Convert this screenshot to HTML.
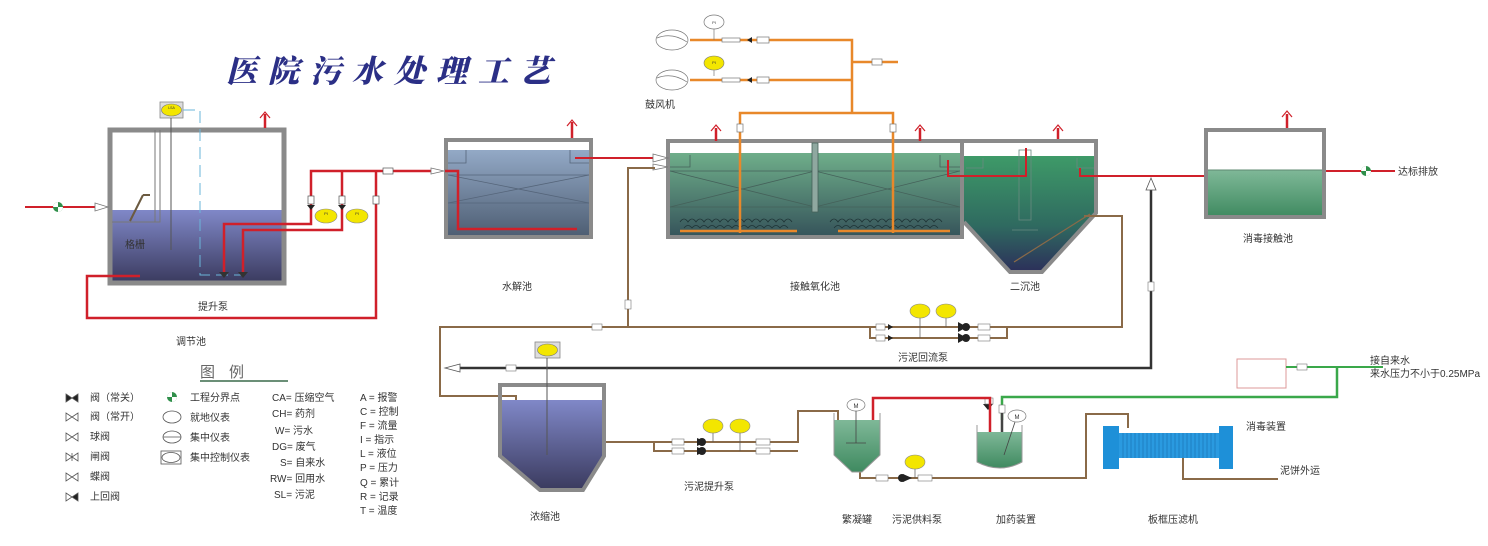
<!DOCTYPE html>
<html><head><meta charset="utf-8"><style>
html,body{margin:0;padding:0;background:#fff;}
svg{display:block;}
text{font-family:"Liberation Sans","Noto Sans CJK SC",sans-serif;fill:#333;font-size:10px;}
</style></head><body>
<svg width="1488" height="546" viewBox="0 0 1488 546" xmlns="http://www.w3.org/2000/svg">
<defs>
<linearGradient id="gb" x1="0" y1="0" x2="0" y2="1"><stop offset="0" stop-color="#8088c8"/><stop offset="1" stop-color="#3a3a5e"/></linearGradient>
<linearGradient id="gh" x1="0" y1="0" x2="0" y2="1"><stop offset="0" stop-color="#93a9c6"/><stop offset="1" stop-color="#4d5d72"/></linearGradient>
<linearGradient id="gg" x1="0" y1="0" x2="0" y2="1"><stop offset="0" stop-color="#6fae8a"/><stop offset="1" stop-color="#35535a"/></linearGradient>
<linearGradient id="gs" x1="0" y1="0" x2="0" y2="1"><stop offset="0" stop-color="#3e9a68"/><stop offset="0.6" stop-color="#2f6a60"/><stop offset="1" stop-color="#2c2f5a"/></linearGradient>
<linearGradient id="gd" x1="0" y1="0" x2="0" y2="1"><stop offset="0" stop-color="#7fb898"/><stop offset="1" stop-color="#3f8a60"/></linearGradient>
</defs>

<!-- Title -->
<text x="226" y="82" style="font-family:'Noto Serif CJK SC',serif;font-size:31px;font-weight:900;fill:#2b2f86;letter-spacing:11px;font-style:italic">医院污水处理工艺</text>

<!-- ===== Regulating tank ===== -->
<rect x="110" y="210" width="174" height="73" fill="url(#gb)"/>
<rect x="110" y="130" width="174" height="153" fill="none" stroke="#8a8a8a" stroke-width="5"/>
<polyline points="112,222 160,222 160,130" fill="none" stroke="#777" stroke-width="1"/>
<line x1="155" y1="130" x2="155" y2="222" stroke="#777" stroke-width="1"/>
<line x1="130" y1="221" x2="143" y2="195" stroke="#6b5a40" stroke-width="2"/>
<line x1="143" y1="195" x2="150" y2="195" stroke="#6b5a40" stroke-width="2"/>
<rect x="160" y="102" width="23" height="16" fill="#ddd" stroke="#888" stroke-width="0.8"/>
<ellipse cx="171.5" cy="110" rx="10" ry="6" fill="#f3e600" stroke="#777" stroke-width="0.6"/>
<text x="171.5" y="109" style="font-size:3.5px" text-anchor="middle">LSA</text>
<line x1="171" y1="118" x2="171" y2="250" stroke="#555" stroke-width="1"/>
<polyline points="183,110 200,110 200,275 245,275" fill="none" stroke="#6ab4d8" stroke-width="1" stroke-dasharray="12,6"/>
<line x1="265" y1="128" x2="265" y2="114" stroke="#d0202a" stroke-width="2.5"/>
<polyline points="260,118 265,112 270,118" fill="none" stroke="#d0202a" stroke-width="1.2"/>
<text x="125" y="248">格栅</text>
<text x="198" y="310">提升泵</text>
<text x="176" y="345">调节池</text>
<!-- inlet -->
<line x1="25" y1="207" x2="95" y2="207" stroke="#d0202a" stroke-width="2"/>
<circle cx="58" cy="207" r="5" fill="#2f8f4a"/><path d="M53,207 A5,5 0 0 1 58,202 L58,207 Z M63,207 A5,5 0 0 1 58,212 L58,207Z" fill="#fff"/>
<polygon points="95,203 108,207 95,211" fill="#fff" stroke="#777" stroke-width="0.8"/>
<!-- red pump pipes -->
<g fill="none" stroke="#d0202a" stroke-width="2.5">
<polyline points="224,272 224,224 311,224 311,171 440,171"/>
<polyline points="243,272 243,230 342,230 342,171"/>
<polyline points="376,171 376,318 87,318 87,276 140,276"/>
</g>
<g fill="#333"><path d="M219,272 l10,0 l-5,6z"/><path d="M238,272 l10,0 l-5,6z"/></g>
<g fill="#fff" stroke="#555" stroke-width="0.7">
<rect x="308" y="196" width="6" height="8"/><rect x="339" y="196" width="6" height="8"/><rect x="373" y="196" width="6" height="8"/>
<rect x="383" y="168" width="10" height="6"/>
</g>
<g fill="#222"><path d="M307,205 l8,0 l-4,5z"/><path d="M338,205 l8,0 l-4,5z"/></g>
<ellipse cx="326" cy="216" rx="11" ry="7" fill="#f3e600" stroke="#888" stroke-width="0.6"/>
<ellipse cx="357" cy="216" rx="11" ry="7" fill="#f3e600" stroke="#888" stroke-width="0.6"/>
<text x="326" y="215" style="font-size:4px" text-anchor="middle">PI</text>
<text x="357" y="215" style="font-size:4px" text-anchor="middle">PI</text>
<polygon points="431,168 444,171 431,174" fill="#fff" stroke="#777" stroke-width="0.8"/>

<!-- ===== Hydrolysis tank ===== -->
<rect x="446" y="150" width="145" height="87" fill="url(#gh)"/>
<rect x="446" y="140" width="145" height="97" fill="none" stroke="#8a8a8a" stroke-width="4"/>
<g stroke="#55657a" stroke-width="0.8" fill="none">
<line x1="448" y1="175" x2="589" y2="175"/><line x1="448" y1="203" x2="589" y2="203"/>
<line x1="448" y1="175" x2="589" y2="203"/><line x1="448" y1="203" x2="589" y2="175"/>
<polyline points="448,163 466,163 466,150"/><polyline points="589,163 570,163 570,150"/>
</g>
<polyline points="445,171 458,171 458,229 577,229" fill="none" stroke="#d0202a" stroke-width="2.5"/>
<polyline points="575,158 655,158" fill="none" stroke="#d0202a" stroke-width="2"/>
<line x1="572" y1="138" x2="572" y2="122" stroke="#d0202a" stroke-width="2.5"/>
<polyline points="567,126 572,120 577,126" fill="none" stroke="#d0202a" stroke-width="1.2"/>
<text x="502" y="290">水解池</text>

<!-- ===== Contact oxidation tank ===== -->
<rect x="668" y="153" width="294" height="84" fill="url(#gg)"/>
<rect x="668" y="141" width="294" height="96" fill="none" stroke="#8a8a8a" stroke-width="4"/>
<g stroke="#45615a" stroke-width="0.8" fill="none">
<line x1="670" y1="171" x2="960" y2="171"/><line x1="670" y1="207" x2="960" y2="207"/>
<line x1="670" y1="171" x2="815" y2="207"/><line x1="670" y1="207" x2="815" y2="171"/>
<line x1="815" y1="171" x2="960" y2="207"/><line x1="815" y1="207" x2="960" y2="171"/>
<rect x="812" y="143" width="6" height="69" fill="#8fa8a0"/>
<polyline points="670,167 690,167 690,155"/><polyline points="960,167 940,167 940,155"/>
</g>
<g stroke="#1f3436" stroke-width="0.8" fill="none">
<path d="M680,222 q4,-6 8,0 q4,-6 8,0 q4,-6 8,0 q4,-6 8,0 q4,-6 8,0 q4,-6 8,0 q4,-6 8,0 q4,-6 8,0 q4,-6 8,0 q4,-6 8,0 q4,-6 8,0 q4,-6 8,0 q4,-6 8,0 q4,-6 8,0"/>
<path d="M830,222 q4,-6 8,0 q4,-6 8,0 q4,-6 8,0 q4,-6 8,0 q4,-6 8,0 q4,-6 8,0 q4,-6 8,0 q4,-6 8,0 q4,-6 8,0 q4,-6 8,0 q4,-6 8,0 q4,-6 8,0 q4,-6 8,0 q4,-6 8,0"/>
<path d="M684,228 q4,-5 8,0 q4,-5 8,0 q4,-5 8,0 q4,-5 8,0 q4,-5 8,0 q4,-5 8,0 q4,-5 8,0 q4,-5 8,0 q4,-5 8,0 q4,-5 8,0 q4,-5 8,0 q4,-5 8,0 q4,-5 8,0"/>
<path d="M834,228 q4,-5 8,0 q4,-5 8,0 q4,-5 8,0 q4,-5 8,0 q4,-5 8,0 q4,-5 8,0 q4,-5 8,0 q4,-5 8,0 q4,-5 8,0 q4,-5 8,0 q4,-5 8,0 q4,-5 8,0 q4,-5 8,0"/>
</g>
<!-- orange air -->
<g fill="none" stroke="#e8882a" stroke-width="2.5">
<polyline points="690,40 852,40 852,113"/>
<polyline points="690,80 852,80"/>
<line x1="852" y1="62" x2="898" y2="62"/>
<polyline points="740,233 740,113 893,113 893,233"/>
<line x1="680" y1="231" x2="797" y2="231"/>
<line x1="838" y1="231" x2="950" y2="231"/>
</g>
<g fill="#fff" stroke="#777" stroke-width="0.7">
<ellipse cx="672" cy="40" rx="16" ry="10"/><ellipse cx="672" cy="80" rx="16" ry="10"/>
<rect x="722" y="38" width="18" height="4"/><rect x="722" y="78" width="18" height="4"/>
<rect x="757" y="37" width="12" height="6"/><rect x="757" y="77" width="12" height="6"/>
<rect x="872" y="59" width="10" height="6"/>
<rect x="737" y="124" width="6" height="8"/><rect x="890" y="124" width="6" height="8"/>
<ellipse cx="714" cy="22" rx="10" ry="7"/>
</g>
<g stroke="#777" stroke-width="0.7"><path d="M657,38 Q672,32 687,42" fill="none"/><path d="M657,78 Q672,72 687,82" fill="none"/>
<line x1="714" y1="29" x2="714" y2="40"/><line x1="714" y1="69" x2="714" y2="76"/></g>
<g fill="#222"><path d="M752,37 l-5,3 l5,3z"/><path d="M752,77 l-5,3 l5,3z"/></g>
<ellipse cx="714" cy="63" rx="10" ry="7" fill="#f3e600" stroke="#777" stroke-width="0.6"/>
<text x="714" y="24" style="font-size:4px" text-anchor="middle">PI</text>
<text x="714" y="64" style="font-size:4px" text-anchor="middle">PI</text>
<text x="645" y="108">鼓风机</text>
<g stroke="#d0202a" stroke-width="2.5"><line x1="716" y1="141" x2="716" y2="128"/><line x1="920" y1="141" x2="920" y2="128"/><line x1="1058" y1="141" x2="1058" y2="128"/><line x1="1287" y1="128" x2="1287" y2="114"/></g>
<g fill="none" stroke="#d0202a" stroke-width="1.2"><polyline points="711,131 716,125 721,131"/><polyline points="915,131 920,125 925,131"/><polyline points="1053,131 1058,125 1063,131"/><polyline points="1282,117 1287,111 1292,117"/></g>
<text x="790" y="290">接触氧化池</text>
<polygon points="653,154 668,158 653,162" fill="#fff" stroke="#777" stroke-width="0.8"/>
<polygon points="653,164 668,167 653,170" fill="#fff" stroke="#777" stroke-width="0.8"/>

<!-- ===== Secondary settling ===== -->
<path d="M964,156 L1096,156 L1096,213 L1042,272 L1010,272 L964,222 Z" fill="url(#gs)"/>
<path d="M964,141 L1096,141 L1096,213 L1042,272 L1010,272 L964,222" fill="none" stroke="#8a8a8a" stroke-width="4"/>
<g stroke="#6a8a80" stroke-width="0.8" fill="none"><rect x="1019" y="150" width="12" height="70"/><line x1="1012" y1="230" x2="1038" y2="230"/>
<polyline points="966,168 983,168 983,158"/><polyline points="1094,168 1077,168 1077,158"/></g>
<polyline points="948,160 948,176 1026,176 1026,148" fill="none" stroke="#d0202a" stroke-width="2"/>
<polyline points="1080,168 1080,176 1216,176 1216,210" fill="none" stroke="#d0202a" stroke-width="2"/>
<text x="1010" y="290">二沉池</text>

<!-- ===== Disinfection tank ===== -->
<rect x="1206" y="170" width="118" height="47" fill="url(#gd)"/>
<rect x="1206" y="130" width="118" height="87" fill="none" stroke="#8a8a8a" stroke-width="4"/>
<line x1="1208" y1="170" x2="1322" y2="170" stroke="#5f8a70" stroke-width="1"/>
<line x1="1326" y1="171" x2="1395" y2="171" stroke="#d0202a" stroke-width="2"/>
<circle cx="1366" cy="171" r="5" fill="#2f8f4a"/><path d="M1361,171 A5,5 0 0 1 1366,166 L1366,171 Z M1371,171 A5,5 0 0 1 1366,176 L1366,171Z" fill="#fff"/>
<text x="1398" y="175">达标排放</text>
<text x="1243" y="242">消毒接触池</text>

<!-- black line -->
<polyline points="1151,190 1151,368 460,368" fill="none" stroke="#333" stroke-width="2.5"/>
<polygon points="1146,190 1151,178 1156,190" fill="#fff" stroke="#555" stroke-width="0.8"/>
<polygon points="460,364 445,368 460,372" fill="#fff" stroke="#555" stroke-width="0.8"/>
<rect x="1237" y="359" width="49" height="29" fill="#fff" stroke="#d99" stroke-width="1"/>
<polyline points="1286,367 1383,367" fill="none" stroke="#3aa84a" stroke-width="2"/>
<polyline points="1337,367 1337,397 1002,397 1002,420" fill="none" stroke="#3aa84a" stroke-width="2.5"/>
<text x="1370" y="364">接自来水</text>
<text x="1370" y="377">来水压力不小于0.25MPa</text>

<!-- brown sludge lines -->
<g fill="none" stroke="#8a6a48" stroke-width="2">
<polyline points="1084,216 1122,216 1122,327 440,327 440,396 516,396 516,401"/>
<polyline points="628,327 628,168 655,168"/>
<polyline points="1007,327 1007,338 870,338 870,327"/>
<polyline points="600,442 654,442 654,451 798,451"/>
<polyline points="654,442 798,442 798,411 838,411 838,420"/>
<polyline points="860,472 860,478 1086,478 1086,414 1128,414 1128,428"/>
<polyline points="1183,457 1183,479 1278,479"/>
<line x1="1014" y1="262" x2="1090" y2="214" stroke-width="1.2"/>
<line x1="556" y1="488" x2="600" y2="442" stroke-width="1.2"/>
</g>
<g fill="#222"><path d="M958,322 l9,5 l-9,5z"/><path d="M958,333 l9,5 l-9,5z"/><circle cx="966" cy="327" r="4"/><circle cx="966" cy="338" r="4"/>
<path d="M888,324 l5,3 l-5,3z"/><path d="M888,335 l5,3 l-5,3z"/>
<path d="M697,438 l9,4 l-9,4z"/><path d="M697,447 l9,4 l-9,4z"/><circle cx="702" cy="442" r="4"/><circle cx="702" cy="451" r="4"/>
<path d="M903,474 l9,4 l-9,4z"/><circle cx="902" cy="478" r="4"/>
<path d="M983,404 l10,0 l-5,6z"/></g>
<g fill="#fff" stroke="#777" stroke-width="0.6">
<rect x="592" y="324" width="10" height="6"/>
<rect x="625" y="300" width="6" height="9"/>
<rect x="876" y="324" width="9" height="6"/><rect x="876" y="335" width="9" height="6"/>
<rect x="978" y="324" width="12" height="6"/><rect x="978" y="335" width="12" height="6"/>
<rect x="1148" y="282" width="6" height="9"/>
<rect x="506" y="365" width="10" height="6"/><rect x="1297" y="364" width="10" height="6"/>
<rect x="672" y="439" width="12" height="6"/><rect x="672" y="448" width="12" height="6"/>
<rect x="756" y="439" width="14" height="6"/><rect x="756" y="448" width="14" height="6"/>
<rect x="876" y="475" width="12" height="6"/><rect x="918" y="475" width="14" height="6"/>
<rect x="985" y="398" width="8" height="6"/><rect x="999" y="405" width="6" height="8"/>
</g>
<g fill="#f3e600" stroke="#888" stroke-width="0.6">
<ellipse cx="920" cy="311" rx="10" ry="7"/><ellipse cx="946" cy="311" rx="10" ry="7"/>
<ellipse cx="713" cy="426" rx="10" ry="7"/><ellipse cx="740" cy="426" rx="10" ry="7"/>
<ellipse cx="915" cy="462" rx="10" ry="7"/>
</g>
<g stroke="#555" stroke-width="0.7"><line x1="920" y1="318" x2="920" y2="338"/><line x1="946" y1="318" x2="946" y2="327"/><line x1="713" y1="433" x2="713" y2="442"/><line x1="740" y1="433" x2="740" y2="451"/><line x1="915" y1="469" x2="915" y2="478"/></g>
<text x="898" y="361">污泥回流泵</text>

<!-- Thickening tank -->
<path d="M500,400 L604,400 L604,456 L583,490 L540,490 L500,456 Z" fill="url(#gb)"/>
<path d="M500,385 L604,385 L604,456 L583,490 L540,490 L500,456 Z" fill="none" stroke="#8a8a8a" stroke-width="4"/>
<rect x="535" y="342" width="25" height="16" fill="#ddd" stroke="#888" stroke-width="0.8"/>
<ellipse cx="547.5" cy="350" rx="10" ry="6" fill="#f3e600" stroke="#777" stroke-width="0.6"/>
<line x1="547" y1="358" x2="547" y2="455" stroke="#555" stroke-width="1"/>
<text x="530" y="520">浓缩池</text>
<text x="684" y="490">污泥提升泵</text>

<!-- Coagulation tank -->
<path d="M834,420 L880,420 L880,455 L862,472 L852,472 L834,455 Z" fill="url(#gd)"/>
<path d="M834,413 L834,455 L852,472 L862,472 L880,455 L880,413" fill="none" stroke="#999" stroke-width="1"/>
<ellipse cx="856" cy="405" rx="9" ry="6" fill="#fff" stroke="#777" stroke-width="0.7"/><text x="856" y="408" style="font-size:6px" text-anchor="middle">M</text>
<line x1="856" y1="411" x2="856" y2="443" stroke="#444" stroke-width="0.8"/><line x1="846" y1="443" x2="866" y2="443" stroke="#444" stroke-width="0.8"/>
<polyline points="873,420 873,398 990,398 990,460" fill="none" stroke="#d0202a" stroke-width="2.5"/>
<text x="842" y="523">繁凝罐</text>
<text x="892" y="523">污泥供料泵</text>

<!-- Dosing tank -->
<path d="M977,432 L1022,432 L1022,462 Q1000,474 977,462 Z" fill="url(#gd)"/>
<path d="M977,425 L977,462 Q1000,474 1022,462 L1022,425" fill="none" stroke="#999" stroke-width="1"/>
<ellipse cx="1017" cy="416" rx="9" ry="6" fill="#fff" stroke="#777" stroke-width="0.7"/><text x="1017" y="419" style="font-size:6px" text-anchor="middle">M</text>
<line x1="1015" y1="422" x2="1004" y2="455" stroke="#444" stroke-width="0.8"/>
<line x1="1002" y1="413" x2="1002" y2="432" stroke="#444" stroke-width="2.5"/>
<text x="996" y="523">加药装置</text>

<!-- Filter press -->
<rect x="1103" y="426" width="16" height="43" fill="#1e90d8"/>
<rect x="1219" y="426" width="14" height="43" fill="#1e90d8"/>
<rect x="1119" y="433" width="100" height="25" fill="#2a9ae0"/>
<g stroke="#1a6fae" stroke-width="0.6"><path d="M1123,433v25M1127,433v25M1131,433v25M1135,433v25M1139,433v25M1143,433v25M1147,433v25M1151,433v25M1155,433v25M1159,433v25M1163,433v25M1167,433v25M1171,433v25M1175,433v25M1179,433v25M1183,433v25M1187,433v25M1191,433v25M1195,433v25M1199,433v25M1203,433v25M1207,433v25M1211,433v25M1215,433v25"/></g>
<text x="1246" y="430">消毒装置</text>
<text x="1280" y="474">泥饼外运</text>
<text x="1148" y="523">板框压滤机</text>

<!-- Legend -->
<text x="200" y="377" style="font-size:15px;fill:#666;letter-spacing:14px">图例</text>
<line x1="200" y1="381" x2="288" y2="381" stroke="#3a6a4a" stroke-width="1.5"/>
<g style="font-size:10px">
<text x="90" y="401">阀（常关）</text><text x="90" y="420">阀（常开）</text><text x="90" y="440">球阀</text><text x="90" y="460">闸阀</text><text x="90" y="480">蝶阀</text><text x="90" y="500">上回阀</text>
<text x="190" y="401">工程分界点</text><text x="190" y="421">就地仪表</text><text x="190" y="441">集中仪表</text><text x="190" y="461">集中控制仪表</text>
<text x="272" y="401">CA= 压缩空气</text><text x="272" y="417">CH= 药剂</text><text x="275" y="434">W= 污水</text><text x="272" y="450">DG= 废气</text><text x="280" y="466">S= 自来水</text><text x="270" y="482">RW= 回用水</text><text x="274" y="498">SL= 污泥</text>
<text x="360" y="401">A = 报警</text><text x="360" y="415">C = 控制</text><text x="360" y="429">F = 流量</text><text x="360" y="443">I = 指示</text><text x="360" y="457">L = 液位</text><text x="360" y="471">P = 压力</text><text x="360" y="486">Q = 累计</text><text x="360" y="500">R = 记录</text><text x="360" y="514">T = 温度</text>
</g>
<g stroke="#555" stroke-width="0.8">
<path d="M66,394 l6,4 l-6,4z M78,394 l-6,4 l6,4z" fill="#222"/>
<path d="M66,413 l6,4 l-6,4z M78,413 l-6,4 l6,4z" fill="#fff"/>
<path d="M66,433 l6,4 l-6,4z M78,433 l-6,4 l6,4z" fill="#fff"/>
<path d="M66,453 l6,4 l-6,4z M78,453 l-6,4 l6,4z" fill="#fff"/><line x1="72" y1="453" x2="72" y2="461"/>
<path d="M66,473 l6,4 l-6,4z M78,473 l-6,4 l6,4z" fill="#fff"/>
<path d="M66,493 l6,4 l-6,4z" fill="#fff"/><path d="M78,493 l-6,4 l6,4z" fill="#222"/>
<ellipse cx="172" cy="417" rx="9" ry="6" fill="#fff"/>
<ellipse cx="172" cy="437" rx="9" ry="6" fill="#fff"/><line x1="163" y1="437" x2="181" y2="437"/>
<rect x="161" y="451" width="20" height="13" fill="#fff"/><ellipse cx="171" cy="457.5" rx="9" ry="5" fill="none"/>
</g>
<circle cx="172" cy="397" r="5" fill="#2f8f4a"/><path d="M167,397 A5,5 0 0 1 172,392 L172,397 Z M177,397 A5,5 0 0 1 172,402 L172,397Z" fill="#fff"/>
</svg>
</body></html>
